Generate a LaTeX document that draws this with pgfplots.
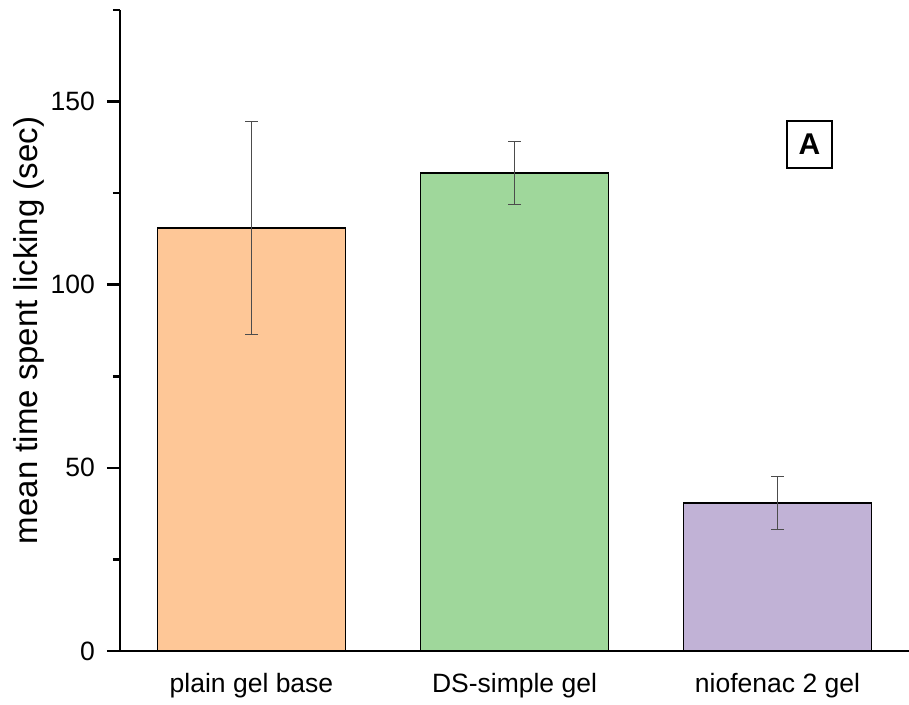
\documentclass[border=0pt]{standalone}
\usepackage{pgfplots}
\pgfplotsset{compat=1.18}
\usepackage{fontspec}
\setmainfont{Liberation Sans}
\definecolor{cOrange}{HTML}{FEC797}
\definecolor{cGreen}{HTML}{9FD79B}
\definecolor{cPurple}{HTML}{C1B2D6}
\newcommand{\tf}{\fontsize{26.5}{30}\selectfont}
\pgfplotsset{
  myerr/.style={
    error bars/.cd, y dir=both, y explicit,
    error bar style={line width=1pt, black!70},
    error mark options={rotate=90, mark size=6.5pt, line width=1pt, black!70},
  },
}
\begin{document}
\begin{tikzpicture}
\begin{axis}[
  scale only axis,
  width=789pt, height=641pt,
  xmin=-0.5, xmax=2.5,
  ymin=0, ymax=175,
  axis lines=left,
  x axis line style={-}, y axis line style={-},
  axis line style={line width=2.5pt, black},
  xtick={0,1,2},
  xticklabels={{\tf plain gel base}, {\tf DS-simple gel}, {\tf niofenac 2 gel}},
  xtick style={draw=none},
  extra x ticks={1}, extra x tick labels={},
  extra x tick style={tick style={draw=black, line width=1pt}},
  ytick={0,50,100,150},
  yticklabels={{\tf 0},{\tf 50},{\tf 100},{\tf 150}},
  minor ytick={25,75,125,175},
  tick align=outside,
  major tick length=13pt,
  minor tick length=7pt,
  ytick style={line width=2.5pt, black},
  yticklabel style={inner sep=0pt, xshift=-12pt},
  xticklabel style={inner sep=0pt, anchor=base, yshift=-28pt},
  ylabel={mean time spent licking (sec)},
  every axis y label/.style={at={(axis description cs:-0.1052,0.5)}, rotate=90, anchor=base, font=\fontsize{33}{38}\selectfont},
  ybar, bar shift=0pt, bar width=0.716,
]
\addplot[fill=cOrange, draw=black, line width=1.5pt, myerr] coordinates {(0,115.5) +- (0,29)};
\addplot[fill=cGreen, draw=black, line width=1.5pt, myerr] coordinates {(1,130.5) +- (0,8.7)};
\addplot[fill=cPurple, draw=black, line width=1.5pt, myerr] coordinates {(2,40.4) +- (0,7.3)};
\node[draw=black, line width=1.5pt, minimum width=45pt, minimum height=47pt, inner sep=0pt, font=\fontsize{30}{34}\selectfont\bfseries] at (axis cs:2.1217,138.3) {A};
\end{axis}
\pgfresetboundingbox
\path[use as bounding box] ([xshift=-120pt,yshift=-53pt]current axis.south west) rectangle ([yshift=10pt]current axis.north east);
\end{tikzpicture}
\end{document}
